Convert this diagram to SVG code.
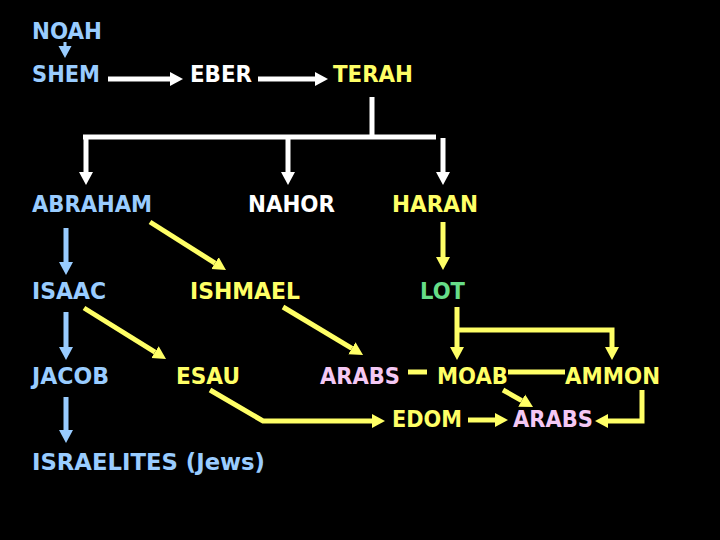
<svg xmlns="http://www.w3.org/2000/svg" width="720" height="540" viewBox="0 0 720 540">
<defs>
<style>
text{font-family:"DejaVu Sans",Verdana,sans-serif;font-weight:bold;font-size:23.5px}
.b{fill:#99ccff}.w{fill:#ffffff}.y{fill:#ffff66}.g{fill:#66dd88}.p{fill:#f4c8f4}
.lw{stroke:#ffffff;stroke-width:5;fill:none}
.lb{stroke:#99ccff;stroke-width:5;fill:none}
.ly{stroke:#ffff66;stroke-width:5;fill:none}
</style>
<marker id="hw" markerUnits="userSpaceOnUse" markerWidth="14" markerHeight="16" refX="0" refY="7" orient="auto" viewBox="0 0 14 14"><path d="M0,0 L13,7 L0,14 z" fill="#ffffff"/></marker>
<marker id="hb" markerUnits="userSpaceOnUse" markerWidth="14" markerHeight="16" refX="0" refY="7" orient="auto" viewBox="0 0 14 14"><path d="M0,0 L13,7 L0,14 z" fill="#99ccff"/></marker>
<marker id="hy" markerUnits="userSpaceOnUse" markerWidth="14" markerHeight="16" refX="0" refY="7" orient="auto" viewBox="0 0 14 14"><path d="M0,0 L13,7 L0,14 z" fill="#ffff66"/></marker>
</defs>
<rect width="720" height="540" fill="#000000"/>
<g id="connectors">
<path d="M63.5,42 h3 v4 h5 l-6.5,12 l-6.5,-12 h5 z" fill="#99ccff"/>
<line class="lw" x1="108" y1="79" x2="170" y2="79" marker-end="url(#hw)"/>
<line class="lw" x1="258" y1="79" x2="315" y2="79" marker-end="url(#hw)"/>
<path class="lw" d="M372,97 V137 M83,137 H436"/>
<line class="lw" x1="86" y1="135" x2="86" y2="172" marker-end="url(#hw)"/>
<line class="lw" x1="288" y1="137" x2="288" y2="172" marker-end="url(#hw)"/>
<line class="lw" x1="443" y1="138" x2="443" y2="172" marker-end="url(#hw)"/>
<line class="lb" x1="66" y1="228" x2="66" y2="262" marker-end="url(#hb)"/>
<line class="ly" x1="150" y1="222" x2="215" y2="263.1" marker-end="url(#hy)"/>
<line class="ly" x1="443" y1="222" x2="443" y2="257" marker-end="url(#hy)"/>
<line class="lb" x1="66" y1="312" x2="66" y2="347" marker-end="url(#hb)"/>
<line class="ly" x1="84" y1="308" x2="155" y2="352.1" marker-end="url(#hy)"/>
<line class="ly" x1="283" y1="307" x2="351.9" y2="348.3" marker-end="url(#hy)"/>
<line class="ly" x1="457" y1="307" x2="457" y2="347" marker-end="url(#hy)"/>
<path class="ly" d="M457,330 H612 V347" marker-end="url(#hy)"/>
<line class="ly" x1="408" y1="372" x2="427" y2="372"/>
<line class="ly" x1="508" y1="372" x2="565" y2="372"/>
<line class="ly" x1="503" y1="390" x2="521.7" y2="400.6" marker-end="url(#hy)"/>
<path class="ly" d="M210,390 L263,421 H372" marker-end="url(#hy)"/>
<line class="ly" x1="468" y1="420" x2="495" y2="420" marker-end="url(#hy)"/>
<path class="ly" d="M642,390 V421 H608" marker-end="url(#hy)"/>
<line class="lb" x1="66" y1="397" x2="66" y2="430" marker-end="url(#hb)"/>
</g>
<g id="noah"><text class="b" x="32" y="39" textLength="70" lengthAdjust="spacingAndGlyphs">NOAH</text></g>
<g id="shem"><text class="b" x="32" y="82" textLength="68" lengthAdjust="spacingAndGlyphs">SHEM</text></g>
<g id="eber"><text class="w" x="190" y="82" textLength="62" lengthAdjust="spacingAndGlyphs">EBER</text></g>
<g id="terah"><text class="y" x="333" y="82" textLength="80" lengthAdjust="spacingAndGlyphs">TERAH</text></g>
<g id="abraham"><text class="b" x="32" y="212" textLength="120" lengthAdjust="spacingAndGlyphs">ABRAHAM</text></g>
<g id="nahor"><text class="w" x="248" y="212" textLength="87" lengthAdjust="spacingAndGlyphs">NAHOR</text></g>
<g id="haran"><text class="y" x="392" y="212" textLength="86" lengthAdjust="spacingAndGlyphs">HARAN</text></g>
<g id="isaac"><text class="b" x="32" y="299" textLength="74" lengthAdjust="spacingAndGlyphs">ISAAC</text></g>
<g id="ishmael"><text class="y" x="190" y="299" textLength="110" lengthAdjust="spacingAndGlyphs">ISHMAEL</text></g>
<g id="lot"><text class="g" x="420" y="299" textLength="45" lengthAdjust="spacingAndGlyphs">LOT</text></g>
<g id="jacob"><text class="b" x="32" y="384" textLength="77" lengthAdjust="spacingAndGlyphs">JACOB</text></g>
<g id="esau"><text class="y" x="176" y="384" textLength="64" lengthAdjust="spacingAndGlyphs">ESAU</text></g>
<g id="arabs1"><text class="p" x="320" y="384" textLength="80" lengthAdjust="spacingAndGlyphs">ARABS</text></g>
<g id="moab"><text class="y" x="437" y="384" textLength="71" lengthAdjust="spacingAndGlyphs">MOAB</text></g>
<g id="ammon"><text class="y" x="565" y="384" textLength="95" lengthAdjust="spacingAndGlyphs">AMMON</text></g>
<g id="edom"><text class="y" x="392" y="427" textLength="70" lengthAdjust="spacingAndGlyphs">EDOM</text></g>
<g id="arabs2"><text class="p" x="513" y="427" textLength="80" lengthAdjust="spacingAndGlyphs">ARABS</text></g>
<g id="israelites"><text class="b" x="32" y="470" textLength="233" lengthAdjust="spacingAndGlyphs">ISRAELITES (Jews)</text></g>
</svg>
